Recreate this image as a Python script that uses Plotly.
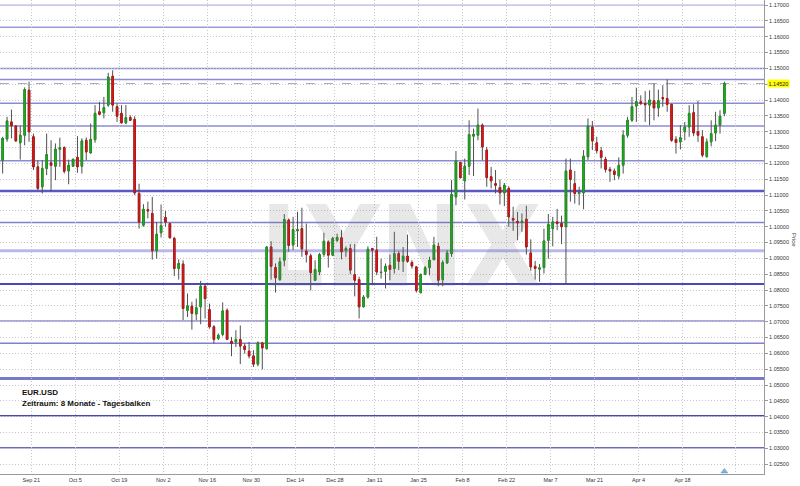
import plotly.graph_objects as go
import pandas as pd

# ---------------- data ----------------
holidays = ["2015-12-25", "2016-01-01"]
dates = pd.bdate_range("2015-09-10", "2016-04-29")
dates = dates[~dates.isin(pd.to_datetime(holidays))]

open_ = [1.1210,1.1277,1.1331,1.1318,1.1265,1.1289,1.1431,1.1284,1.1189,1.1126,
         1.1184,1.1202,1.1191,1.1244,1.1250,1.1176,1.1191,1.1219,1.1191,1.1273,
         1.1233,1.1275,1.1363,1.1360,1.1384,1.1475,1.1379,1.1358,1.1328,1.1345,
         1.1339,1.1105,1.1005,1.1054,1.1042,1.0924,1.0981,1.1029,1.1010,1.0963,
         1.0868,1.0882,1.0736,1.0749,1.0724,1.0747,1.0812,1.0738,1.0684,1.0647,
         1.0660,1.0736,1.0638,1.0636,1.0644,1.0623,1.0607,1.0592,1.0566,1.0633,
         1.0615,1.0936,1.0871,1.0833,1.0894,1.1021,1.0942,1.0987,1.0994,1.0923,
         1.0908,1.0831,1.0857,1.0913,1.0952,1.0910,1.0957,1.0965,1.0926,1.0931,
         1.0849,1.0833,1.0747,1.0778,1.0931,1.0926,1.0855,1.0859,1.0878,1.0868,
         1.0915,1.0891,1.0907,1.0887,1.0873,1.0792,1.0850,1.0871,1.0896,1.0938,
         1.0833,1.0886,1.0915,1.1094,1.1203,1.1145,1.1191,1.1286,1.1289,1.1321,
         1.1242,1.1158,1.1136,1.1124,1.1107,1.1121,1.1026,1.1017,1.1014,1.1024,
         1.0917,1.0875,1.0866,1.0871,1.0957,1.0994,1.1015,1.1010,1.1000,1.1179,
         1.1136,1.1105,1.1107,1.1221,1.1315,1.1265,1.1240,1.1213,1.1181,1.1176,
         1.1160,1.1194,1.1289,1.1336,1.1381,1.1395,1.1389,1.1384,1.1398,1.1375,
         1.1408,1.1405,1.1386,1.1276,1.1268,1.1300,1.1315,1.1360,1.1300,1.1284,
         1.1221,1.1268,1.1296,1.1321,1.1358]

high = [1.1284,1.1347,1.1370,1.1321,1.1320,1.1440,1.1458,1.1294,1.1210,1.1210,
        1.1294,1.1273,1.1263,1.1281,1.1254,1.1212,1.1215,1.1286,1.1279,1.1282,
        1.1326,1.1384,1.1394,1.1410,1.1486,1.1494,1.1389,1.1384,1.1384,1.1352,
        1.1349,1.1136,1.1071,1.1079,1.1094,1.1015,1.1070,1.1050,1.1012,1.0968,
        1.0897,1.0894,1.0789,1.0763,1.0773,1.0829,1.0818,1.0757,1.0689,1.0663,
        1.0761,1.0742,1.0652,1.0673,1.0688,1.0631,1.0636,1.0610,1.0638,1.0636,
        1.0938,1.0954,1.0884,1.0903,1.1040,1.1026,1.1031,1.1047,1.1060,1.1010,
        1.0915,1.0894,1.0917,1.0981,1.0957,1.0968,1.0978,1.0989,1.0938,1.0945,
        1.0945,1.0842,1.0784,1.0938,1.0933,1.0968,1.0899,1.0884,1.0912,1.0984,
        1.0923,1.0936,1.0975,1.0894,1.0875,1.0852,1.0876,1.0905,1.0968,1.0949,
        1.0894,1.0926,1.1147,1.1239,1.1205,1.1215,1.1336,1.1310,1.1373,1.1326,
        1.1252,1.1189,1.1179,1.1149,1.1138,1.1128,1.1063,1.1047,1.1042,1.1066,
        1.0960,1.0892,1.0882,1.0994,1.1040,1.1031,1.1056,1.1035,1.1215,1.1215,
        1.1176,1.1126,1.1242,1.1342,1.1334,1.1284,1.1252,1.1221,1.1189,1.1184,
        1.1219,1.1305,1.1347,1.1410,1.1439,1.1415,1.1428,1.1431,1.1452,1.1433,
        1.1447,1.1465,1.1389,1.1286,1.1321,1.1331,1.1384,1.1387,1.1398,1.1305,
        1.1279,1.1336,1.1363,1.1368,1.1458]

low = [1.1168,1.1268,1.1279,1.1268,1.1212,1.1257,1.1268,1.1179,1.1115,1.1105,
       1.1163,1.1113,1.1147,1.1189,1.1168,1.1134,1.1189,1.1170,1.1168,1.1210,
       1.1231,1.1265,1.1352,1.1342,1.1379,1.1363,1.1331,1.1326,1.1324,1.1334,
       1.1100,1.0994,1.1000,1.1026,1.0896,1.0899,1.0966,1.1000,1.0963,1.0844,
       1.0833,1.0705,1.0715,1.0675,1.0705,1.0692,1.0710,1.0678,1.0631,1.0642,
       1.0654,1.0642,1.0591,1.0620,1.0566,1.0599,1.0584,1.0557,1.0559,1.0549,
       1.0612,1.0833,1.0792,1.0829,1.0875,1.0921,1.0926,1.0936,1.0905,1.0887,
       1.0799,1.0829,1.0847,1.0905,1.0871,1.0907,1.0952,1.0897,1.0905,1.0850,
       1.0780,1.0710,1.0745,1.0773,1.0815,1.0847,1.0836,1.0805,1.0831,1.0852,
       1.0863,1.0857,1.0886,1.0868,1.0792,1.0789,1.0847,1.0847,1.0894,1.0812,
       1.0812,1.0882,1.0905,1.1068,1.1152,1.1086,1.1163,1.1160,1.1273,1.1210,
       1.1126,1.1121,1.1105,1.1070,1.1065,1.1000,1.0987,1.0957,1.0984,1.0912,
       1.0861,1.0833,1.0826,1.0852,1.0899,1.0938,1.0989,1.0945,1.0818,1.1079,
       1.1073,1.1068,1.1055,1.1210,1.1242,1.1231,1.1184,1.1171,1.1142,1.1147,
       1.1150,1.1168,1.1281,1.1331,1.1331,1.1384,1.1331,1.1321,1.1336,1.1347,
       1.1379,1.1363,1.1268,1.1231,1.1244,1.1273,1.1284,1.1286,1.1268,1.1219,
       1.1219,1.1254,1.1270,1.1294,1.1349]

close = [1.1279,1.1334,1.1319,1.1271,1.1289,1.1433,1.1300,1.1189,1.1121,1.1184,
         1.1228,1.1194,1.1245,1.1250,1.1175,1.1194,1.1213,1.1189,1.1271,1.1236,
         1.1276,1.1358,1.1355,1.1376,1.1473,1.1384,1.1349,1.1328,1.1345,1.1336,
         1.1107,1.1015,1.1055,1.1050,1.0924,1.0976,1.1003,1.1015,1.0965,1.0868,
         1.0884,1.0742,1.0750,1.0726,1.0744,1.0812,1.0773,1.0684,1.0644,1.0657,
         1.0734,1.0644,1.0631,1.0644,1.0623,1.0612,1.0592,1.0566,1.0633,1.0617,
         1.0936,1.0875,1.0839,1.0889,1.1023,1.0941,1.0991,1.0991,1.0930,1.0912,
         1.0855,1.0865,1.0912,1.0954,1.0910,1.0963,1.0966,1.0921,1.0931,1.0863,
         1.0831,1.0747,1.0778,1.0929,1.0926,1.0857,1.0856,1.0875,1.0865,1.0915,
         1.0891,1.0907,1.0891,1.0876,1.0799,1.0849,1.0870,1.0894,1.0942,1.0831,
         1.0887,1.0917,1.1102,1.1208,1.1155,1.1191,1.1291,1.1292,1.1321,1.1252,
         1.1155,1.1145,1.1131,1.1107,1.1131,1.1031,1.1021,1.1012,1.1017,1.0936,
         1.0873,1.0868,1.0870,1.0955,1.1007,1.1015,1.1010,1.1000,1.1176,1.1149,
         1.1105,1.1108,1.1223,1.1318,1.1271,1.1240,1.1219,1.1181,1.1176,1.1165,
         1.1194,1.1289,1.1336,1.1379,1.1395,1.1389,1.1385,1.1400,1.1375,1.1398,
         1.1404,1.1386,1.1273,1.1266,1.1281,1.1315,1.1358,1.1296,1.1289,1.1226,
         1.1268,1.1294,1.1321,1.1349,1.1452]

last_price = 1.1452

tick_dates = ["2015-09-21", "2015-10-05", "2015-10-19", "2015-11-02", "2015-11-16",
              "2015-11-30", "2015-12-14", "2015-12-28", "2016-01-11", "2016-01-25",
              "2016-02-08", "2016-02-22", "2016-03-07", "2016-03-21", "2016-04-04",
              "2016-04-18"]
tick_labels = ["Sep 21", "Oct 5", "Oct 19", "Nov 2", "Nov 16", "Nov 30", "Dec 14",
               "Dec 28", "Jan 11", "Jan 25", "Feb 8", "Feb 22", "Mar 7", "Mar 21",
               "Apr 4", "Apr 18"]

price_ticks = [round(1.025 + 0.005 * k, 3) for k in range(30)]

# support / resistance levels drawn on the chart
levels = [1.1700, 1.1630, 1.1500, 1.1465, 1.1390, 1.1318, 1.1208, 1.1113,
          1.1013, 1.0924, 1.0819, 1.0702, 1.0632, 1.0521, 1.0403, 1.0302]
level_colors = ["#a4a4de", "#9a9ad8", "#8c8cd4", "#8c8cd4", "#8c8cd4", "#8c8cd4",
                "#8c8cd4", "#5a5ac4", "#8080cc", "#b8b8ee", "#4a4ab4", "#8c8cd4",
                "#8080cc", "#7a7acc", "#4848aa", "#6a6ac0"]
level_widths = [1, 1.5, 1.5, 1.5, 1.5, 1.5, 1.5, 2.5, 1.5, 3, 2, 1.5, 1.5, 3, 1.5, 1.5]

# ---------------- figure ----------------
assert len(dates) == len(open_) == len(high) == len(low) == len(close)
pos = list(range(len(dates)))
date_pos = {d.strftime("%Y-%m-%d"): i for i, d in enumerate(dates)}
tickvals = [date_pos[d] - 0.5 for d in tick_dates] + [len(dates) + 1.5]
ticktext = tick_labels + [""]

body_hi = [max(o, c) for o, c in zip(open_, close)]
body_lo = [min(o, c) for o, c in zip(open_, close)]

fig = go.Figure()

# wicks (grey)
grey = dict(line=dict(color="#505050", width=1), fillcolor="#505050")
fig.add_trace(go.Candlestick(x=pos, open=open_, high=high, low=low, close=close,
                             increasing=grey, decreasing=grey, whiskerwidth=0,
                             hoverinfo="skip", showlegend=False))
# coloured bodies
fig.add_trace(go.Candlestick(x=pos, open=open_, high=body_hi, low=body_lo, close=close,
                             increasing=dict(line=dict(color="#1c961c", width=1), fillcolor="#26b426"),
                             decreasing=dict(line=dict(color="#bc1414", width=1), fillcolor="#dc2020"),
                             whiskerwidth=0, hoverinfo="skip", showlegend=False))

y_range = [1.0219, 1.1716]
x_range = [-0.6, 173.0]

# small event marker at the last bar
fig.add_trace(go.Scatter(x=[pos[-1]], y=[y_range[0] + 0.0008], mode="markers",
                         marker=dict(symbol="triangle-up", size=6, color="#7fb2e0",
                                     line=dict(color="#5b93c8", width=0.5)),
                         cliponaxis=False, hoverinfo="skip", showlegend=False))

shapes = []
for lv, col, w in zip(levels, level_colors, level_widths):
    shapes.append(dict(type="line", xref="paper", x0=0, x1=1, yref="y", y0=lv, y1=lv,
                       line=dict(color=col, width=w), layer="between"))
shapes.append(dict(type="line", xref="paper", x0=0, x1=1, yref="y", y0=last_price, y1=last_price,
                   line=dict(color="#a8a8a8", width=1, dash="dash"), layer="between"))

ytext = [("" if abs(v - 1.145) < 1e-9 else f"{v:.5f}") for v in price_ticks]

fig.update_layout(
    width=800, height=486,
    margin=dict(l=0, r=36, t=0, b=12),
    paper_bgcolor="white", plot_bgcolor="white",
    showlegend=False,
    boxmode="overlay", boxgap=0.5,
    font=dict(family="Liberation Sans, Arial, sans-serif", size=6, color="#333333"),
    shapes=shapes,
    xaxis=dict(range=x_range, rangeslider=dict(visible=False), tickmode="array",
               tickvals=tickvals, ticktext=ticktext, showgrid=True, gridcolor="#c8c8c8",
               griddash="1px,2px", gridwidth=1, zeroline=False, showline=True,
               linecolor="#9a9a9a", linewidth=1, ticks="", tickfont=dict(size=5.5, color="#333333")),
    yaxis=dict(range=y_range, side="right", tickmode="array", tickvals=price_ticks,
               ticktext=ytext, showgrid=True, gridcolor="#c8c8c8", griddash="1px,2px",
               gridwidth=1, zeroline=False, showline=True, linecolor="#9a9a9a",
               linewidth=1, ticks="outside", ticklen=3, tickcolor="#9a9a9a",
               tickfont=dict(size=5.5, color="#333333")),
    annotations=[
        dict(text="<b>LYNX</b>", xref="paper", yref="paper", x=0.525, y=0.478,
             xanchor="center", yanchor="middle", showarrow=False,
             font=dict(family="Liberation Sans Narrow, DejaVu Sans Condensed, Arial Narrow, Liberation Sans, sans-serif",
                       size=112, color="rgba(110,110,110,0.16)")),
        dict(text="<b>EUR.USD</b>", xref="paper", yref="paper", x=20 / 764, y=1 - 392.5 / 474,
             xanchor="left", yanchor="middle", showarrow=False,
             font=dict(family="Liberation Sans, Arial, sans-serif", size=8, color="#111111")),
        dict(text="<b>Zeitraum: 8 Monate - Tagesbalken</b>", xref="paper", yref="paper",
             x=20 / 764, y=1 - 403.5 / 474, xanchor="left", yanchor="middle", showarrow=False,
             font=dict(family="Liberation Sans, Arial, sans-serif", size=8, color="#111111")),
        dict(text=f"{last_price:.5f}", xref="paper", yref="y", x=1, y=last_price,
             xanchor="left", yanchor="middle", xshift=3, showarrow=False,
             bgcolor="#ffff00", borderpad=0.5,
             font=dict(family="Liberation Sans, Arial, sans-serif", size=5.5, color="#222222")),
        dict(text="Price", xref="paper", yref="y", x=1, y=1.0958, xanchor="center",
             yanchor="middle", xshift=30, textangle=90, showarrow=False,
             font=dict(family="Liberation Sans, Arial, sans-serif", size=6, color="#333333")),
    ],
)

fig.write_html("out.html", config={"displayModeBar": False},
               post_script="document.body.style.margin='0';document.body.style.overflow='hidden';")
